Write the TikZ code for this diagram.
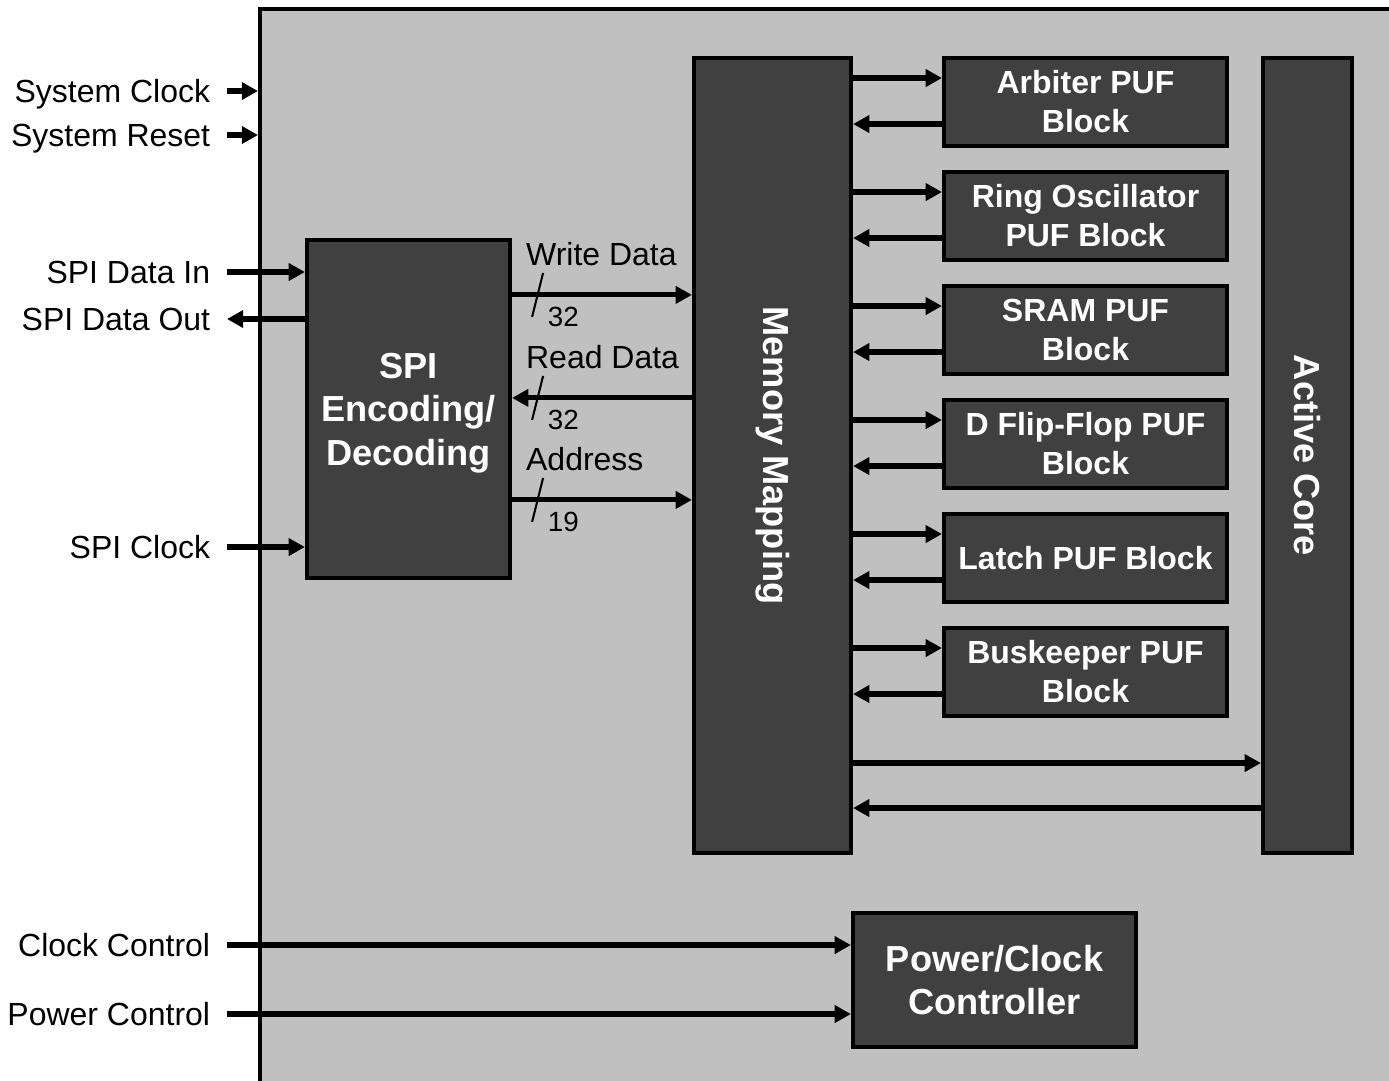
\documentclass[tikz,border=0pt]{standalone}
\usepackage{fontspec}
\setmainfont{Liberation Sans}
\usetikzlibrary{arrows.meta,calc}
\definecolor{chipgray}{RGB}{192,192,192}
\definecolor{blockgray}{RGB}{64,64,64}

\begin{document}
\begin{tikzpicture}[x=0.1mm, y=-0.1mm,
    every node/.style={font=\fontsize{9.1pt}{11.1pt}\selectfont},
    blk/.style={draw, line width=1.2pt, fill=blockgray, text=white, align=center, inner sep=0pt,
      font=\fontsize{9.1pt}{11.1pt}\selectfont\bfseries},
    bigblk/.style={blk, font=\fontsize{10.3pt}{12.4pt}\selectfont\bfseries},
    puf/.style={minimum width=28.3mm, minimum height=8.8mm},
    ext/.style={anchor=east, inner xsep=4.6pt, inner ysep=0pt, text height=6.6pt, text depth=0pt},
    sig/.style={line width=1.45pt, -{Triangle[length=4.6pt, width=4.8pt]}},
    buslbl/.style={anchor=base west, inner sep=0pt, xshift=1.15mm, yshift=2.9mm},
    buswd/.style={anchor=west, inner sep=0pt, font=\fontsize{7.9pt}{9pt}\selectfont}
  ]
  \useasboundingbox (0,0) rectangle (1389,1080);
  \clip (0,0) rectangle (1389,1080);

  % chip outline
  \node[draw, line width=1.2pt, fill=chipgray, anchor=north west,
    minimum width=114mm, minimum height=108mm] (chip) at (258,7) {};

  % blocks
  \node[bigblk, minimum width=20.3mm, minimum height=33.8mm, text depth=0pt] (spi) at (408.5,409) {SPI\\Encoding/\\Decoding};
  \node[bigblk, minimum width=15.7mm, minimum height=79.5mm] (mm) at (772.5,455.5) {\rotatebox{-90}{Memory Mapping}};
  \node[bigblk, minimum width=8.9mm, minimum height=79.5mm] (ac) at (1307.5,455.5) {\rotatebox{-90}{Active Core}};
  \foreach \n/\t [count=\i from 0] in {arb/{Arbiter PUF\\Block}, ro/{Ring Oscillator\\PUF Block},
      sram/{SRAM PUF\\Block}, dff/{D Flip-Flop PUF\\Block}, lat/{Latch PUF Block}, bk/{Buskeeper PUF\\Block}}
    \node[blk, puf] (\n) at (1085.5,102+114*\i) {\t};
  \node[bigblk, minimum width=28.3mm, minimum height=13.4mm, text depth=0pt] (pcc) at (994.5,980) {Power/Clock\\Controller};

  % outside signals
  \node[ext] (sclk) at (227,91) {System Clock};
  \node[ext] (srst) at (227,135) {System Reset};
  \node[ext] (sdin) at (227,272) {SPI Data In};
  \node[ext] (sdout) at (227,319) {SPI Data Out};
  \node[ext] (sck) at (227,547) {SPI Clock};
  \node[ext] (cctl) at (227,945) {Clock Control};
  \node[ext] (pctl) at (227,1014) {Power Control};

  \draw[sig] (sclk.east) -- (sclk.east -| chip.west);
  \draw[sig] (srst.east) -- (srst.east -| chip.west);
  \draw[sig] (sdin.east) -- (sdin.east -| spi.west);
  \draw[sig] (sdout.east -| spi.west) -- (sdout.east);
  \draw[sig] (sck.east) -- (sck.east -| spi.west);
  \draw[sig] (cctl.east) -- (cctl.east -| pcc.west);
  \draw[sig] (pctl.east) -- (pctl.east -| pcc.west);

  % buses
  \coordinate (wd) at ($(spi.north east)+(0,57)$);
  \coordinate (rd) at ($(spi.north east)+(0,160)$);
  \coordinate (ad) at ($(spi.north east)+(0,262)$);
  \draw[sig] (wd) -- node[buslbl, pos=0] {Write Data} (wd -| mm.west);
  \draw[sig] (rd -| mm.west) -- node[buslbl, pos=1] {Read Data} (rd);
  \draw[sig] (ad) -- node[buslbl, pos=0] {Address} (ad -| mm.west);
  \foreach \c/\w in {wd/32, rd/32, ad/19} {
    \draw[line width=0.6pt] ($(\c)+(20,22)$) -- ($(\c)+(31,-22)$);
    \node[buswd] (\c-w) at ($(\c)+(35,22)$) {\w};
  }

  % memory map to PUF blocks
  \foreach \n in {arb,ro,sram,dff,lat,bk} {
    \coordinate (\n-i) at ($(\n.west)+(0,-24)$);
    \coordinate (\n-o) at ($(\n.west)+(0,22)$);
    \draw[sig] (mm.east |- \n-i) -- (\n-i);
    \draw[sig] (\n-o) -- (mm.east |- \n-o);
  }

  % memory map to active core
  \coordinate (m2a) at ($(mm.east)+(0,307.5)$);
  \coordinate (a2m) at ($(ac.west)+(0,352.5)$);
  \draw[sig] (m2a) -- (m2a -| ac.west);
  \draw[sig] (a2m) -- (a2m -| mm.east);
\end{tikzpicture}
\end{document}
